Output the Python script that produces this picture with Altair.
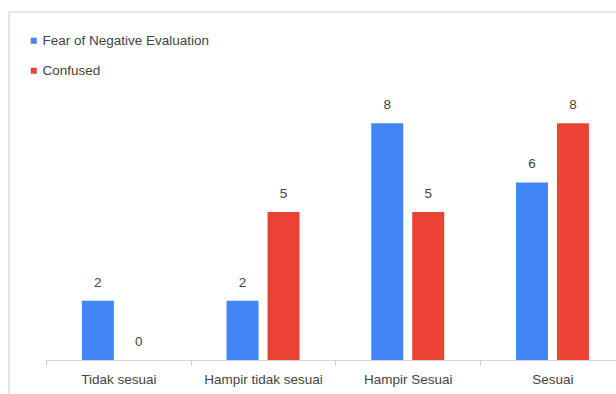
import altair as alt
import pandas as pd

categories = ["Tidak sesuai", "Hampir tidak sesuai", "Hampir Sesuai", "Sesuai"]
series = ["Fear of Negative Evaluation", "Confused"]
fear_values = [2, 2, 8, 6]
confused_values = [0, 5, 5, 8]
colors = ["#4285F4", "#EA4335"]

rows = []
for c, f, k in zip(categories, fear_values, confused_values):
    rows.append({"category": c, "series": series[0], "value": f})
    rows.append({"category": c, "series": series[1], "value": k})
df = pd.DataFrame(rows)

FONT = "Liberation Sans, Arial, sans-serif"
FS = 13.5
TXT = "#444444"

base = alt.Chart(df)

x_enc = alt.X(
    "category:N",
    sort=categories,
    scale=alt.Scale(range=[0, 578.8], paddingInner=0, paddingOuter=0),
    axis=alt.Axis(
        title=None,
        labelAngle=0,
        labelFont=FONT,
        labelFontSize=FS,
        labelColor=TXT,
        labelPadding=7,
        domainColor="#d0d0d0",
        tickColor="#d0d0d0",
        tickSize=5,
        tickBand="extent",
        grid=False,
    ),
)
xoff = alt.XOffset(
    "series:N",
    sort=series,
    scale=alt.Scale(paddingInner=0.22, paddingOuter=0.875),
)
y_enc = alt.Y("value:Q", scale=alt.Scale(domain=[0, 10]), axis=None)

bars = base.mark_bar().encode(
    x=x_enc,
    xOffset=xoff,
    y=y_enc,
    color=alt.Color(
        "series:N",
        sort=series,
        scale=alt.Scale(domain=series, range=colors),
        legend=alt.Legend(
            title=None,
            orient="none",
            legendX=-19,
            legendY=-30,
            direction="vertical",
            symbolType="square",
            symbolSize=36,
            symbolStrokeWidth=0,
            labelFont=FONT,
            labelFontSize=FS,
            labelColor=TXT,
            labelOffset=2,
            labelLimit=0,
            rowPadding=15,
            padding=0,
        ),
    ),
)

labels = base.mark_text(
    baseline="bottom", dy=-11, font=FONT, fontSize=FS, color=TXT
).encode(
    x=alt.X("category:N", sort=categories),
    xOffset=alt.XOffset("series:N", sort=series),
    y=alt.Y("value:Q"),
    text=alt.Text("value:Q"),
)

frame = alt.Chart(alt.Data(values=[{}])).mark_rect(
    fill=None, stroke="#dddddd", strokeWidth=1.5
).encode(
    x=alt.value(-37),
    x2=alt.value(800),
    y=alt.value(-52),
    y2=alt.value(600),
)

chart = (
    alt.layer(frame, bars, labels)
    .properties(
        width=570,
        height=296,
        autosize=alt.AutoSizeParams(type="none"),
        padding={"left": 46, "top": 64, "right": 0, "bottom": 34},
        background="white",
    )
    .configure_view(stroke=None)
)

chart.save("out.html", embed_options={"renderer": "svg", "actions": False})
